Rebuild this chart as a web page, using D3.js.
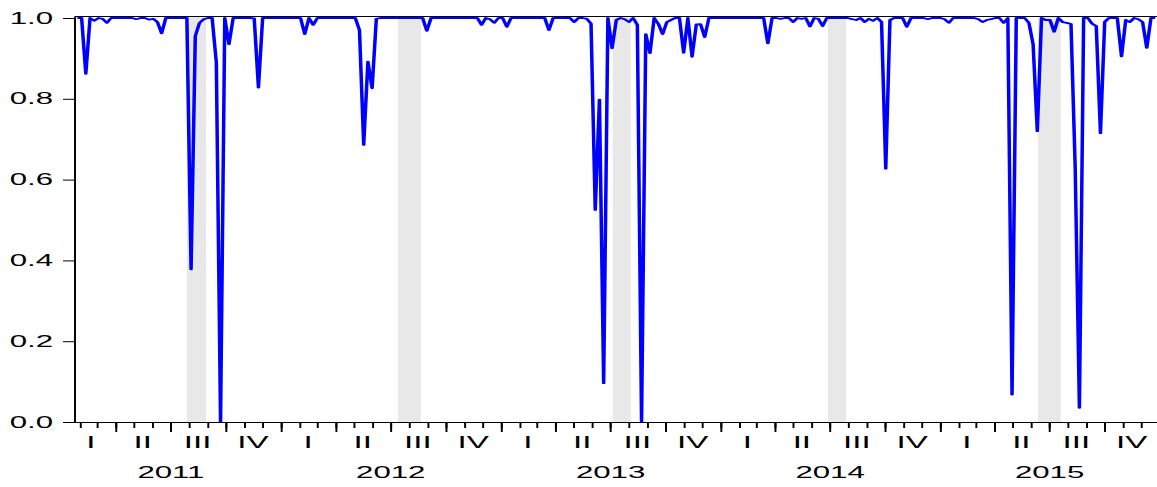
<!DOCTYPE html>
<html>
<head>
<meta charset="utf-8">
<script src="https://cdn.jsdelivr.net/npm/d3@7"></script>
<style>
  html, body { margin: 0; padding: 0; background: #ffffff; }
  svg { display: block; }
</style>
</head>
<body>
<script>
// Weekly observations, first week ending on this date
const firstWeek = "2011-01-28";

// Weekly series (one value per week)
const values = [
  1, 1, 0.862, 1, 0.993, 1, 0.998, 0.988, 1, 1,
  1, 1, 1, 1, 0.997, 1, 1, 0.996, 0.998, 0.99,
  0.962, 1, 1, 1, 1, 1, 1, 0.378, 0.955, 0.988,
  0.997, 1, 1, 0.89, 0.0, 1, 0.935, 1, 1, 1,
  1, 1, 0.999, 0.828, 1, 1, 1, 1, 1, 1,
  1, 1, 1, 1, 0.96, 1, 0.983, 1, 1, 1,
  1, 1, 1, 1, 1, 1, 1, 0.97, 0.686, 0.892,
  0.826, 0.998, 1, 1, 1, 1, 1, 1, 1, 1,
  1, 1, 1, 0.968, 1, 1, 1, 1, 1, 1,
  1, 1, 1, 1, 1, 1, 0.983, 1, 0.997, 0.988,
  1, 1, 0.978, 1, 1, 1, 1, 1, 1, 1,
  1, 1, 0.97, 1, 1, 1, 1, 1, 0.99, 1,
  1, 0.998, 0.986, 0.525, 0.798, 0.096, 1, 0.925, 0.995, 1,
  0.997, 0.99, 1, 0.983, 0.0, 0.96, 0.913, 1, 0.985, 0.96,
  0.99, 0.995, 1, 1, 0.914, 1, 0.904, 0.984, 0.985, 0.953,
  1, 1, 1, 1, 1, 1, 1, 1, 1, 1,
  1, 1, 1, 1, 0.937, 1, 1, 0.998, 1, 1,
  0.99, 1, 0.998, 1, 0.979, 1, 0.998, 0.98, 1, 1,
  1, 1, 1, 1, 0.997, 0.995, 1, 0.99, 0.998, 0.993,
  1, 0.99, 0.627, 0.995, 1, 1, 1, 0.978, 1, 1,
  1, 1, 0.997, 1, 1, 1, 0.997, 0.988, 1, 1,
  1, 1, 1, 1, 0.997, 0.99, 0.995, 0.997, 1, 1,
  0.988, 1, 0.068, 1, 1, 1, 0.988, 0.935, 0.72, 1,
  0.995, 0.995, 0.966, 1, 0.99, 0.988, 0.985, 0.63, 0.035, 1,
  1, 0.986, 0.98, 0.715, 0.99, 1, 1, 1, 0.905, 0.995,
  0.99, 1, 0.997, 0.99, 0.926, 1, 1
];

// Shaded periods (start, end)
const shadeStarts = ["2011-07-29", "2012-07-14", "2013-07-06", "2014-06-29", "2015-06-13"];
const shadeEnds   = ["2011-08-30", "2012-08-21", "2013-08-05", "2014-07-29", "2015-07-21"];

// Axis labels
const yTicks = [0.0, 0.2, 0.4, 0.6, 0.8, 1.0];
const quarterNames = ["I", "II", "III", "IV"];
const years = [2011, 2012, 2013, 2014, 2015];

const W = 1157, H = 487;
const K = 1.95;                     // horizontal stretch of the whole drawing
const FONT = "'Liberation Sans', Arial, Helvetica, sans-serif";

const parse = d3.timeParse("%Y-%m-%d");
const start = parse(firstWeek);
const dates = values.map((_, i) => d3.timeDay.offset(start, 7 * i));

const plotLeft = 75, plotRight = 1157, plotTop = 16.5, plotBottom = 422;

const svg = d3.select("body").append("svg")
  .attr("width", W).attr("height", H);

const g = svg.append("g").attr("transform", `scale(${K},1)`);

const x = d3.scaleTime()
  .domain([parse("2011-01-24"), parse("2015-12-28")])
  .range([plotLeft / K, plotRight / K]);

const y = d3.scaleLinear().domain([0, 1]).range([plotBottom, 18]);

// shaded periods
g.append("g").selectAll("rect")
  .data(shadeStarts.map((s, i) => [parse(s), parse(shadeEnds[i])]))
  .join("rect")
  .attr("x", d => x(d[0]))
  .attr("width", d => x(d[1]) - x(d[0]))
  .attr("y", plotTop)
  .attr("height", plotBottom - plotTop)
  .attr("fill", "#e8e8e8");

// series line
const line = d3.line()
  .x((d, i) => x(dates[i]))
  .y(d => y(d));

g.append("path")
  .datum(values)
  .attr("d", line)
  .attr("fill", "none")
  .attr("stroke", "#0000ff")
  .attr("stroke-width", 1.8)
  .attr("stroke-linejoin", "round");

// frame top edge
g.append("line")
  .attr("x1", plotLeft / K).attr("x2", W / K)
  .attr("y1", plotTop).attr("y2", plotTop)
  .attr("stroke", "#000").attr("stroke-width", 1);

// y axis
const yAxis = d3.axisLeft(y)
  .tickValues(yTicks)
  .tickFormat(d3.format(".1f"))
  .tickSizeInner(12 / K)
  .tickSizeOuter(0)
  .tickPadding(10 / K);

const yg = g.append("g")
  .attr("transform", `translate(${plotLeft / K},0)`)
  .call(yAxis);
yg.select(".domain").remove();
yg.selectAll("text")
  .attr("font-family", FONT)
  .attr("font-size", 16)
  .attr("fill", "#000");

g.append("line")
  .attr("x1", plotLeft / K).attr("x2", plotLeft / K)
  .attr("y1", plotTop).attr("y2", plotBottom + 0.5)
  .attr("stroke", "#000").attr("stroke-width", 1);

// x axis: monthly ticks, longer at quarters
const xMonth = d3.axisBottom(x)
  .ticks(d3.timeMonth.every(1))
  .tickFormat("")
  .tickSizeInner(6)
  .tickSizeOuter(0);
const xQuarter = d3.axisBottom(x)
  .ticks(d3.timeMonth.every(3))
  .tickFormat("")
  .tickSizeInner(10)
  .tickSizeOuter(0);

const xg1 = g.append("g").attr("transform", `translate(0,${plotBottom})`).call(xMonth);
const xg2 = g.append("g").attr("transform", `translate(0,${plotBottom})`).call(xQuarter);
xg1.select(".domain").remove();
xg2.select(".domain").remove();

g.append("line")
  .attr("x1", plotLeft / K).attr("x2", W / K)
  .attr("y1", plotBottom + 0.5).attr("y2", plotBottom + 0.5)
  .attr("stroke", "#000").attr("stroke-width", 1);

// quarter labels, centred on the visible part of each quarter
const [d0] = x.domain();
const quarters = [];
years.forEach(yr => {
  quarterNames.forEach((q, qi) => {
    const a = new Date(Math.max(+new Date(yr, qi * 3, 1), +d3.timeDay.offset(d0, -14)));
    const b = new Date(yr, qi * 3 + 3, 1);
    quarters.push({ name: q, mid: new Date((+a + +b) / 2) });
  });
});

g.append("g").selectAll("text")
  .data(quarters)
  .join("text")
  .attr("x", d => x(d.mid))
  .attr("y", 448)
  .attr("text-anchor", "middle")
  .attr("font-family", FONT)
  .attr("font-size", 17)
  .attr("fill", "#000")
  .text(d => d.name);

// year labels
g.append("g").selectAll("text")
  .data(years)
  .join("text")
  .attr("x", yr => x(new Date((+new Date(yr, 0, 1) + +new Date(yr + 1, 0, 1)) / 2)))
  .attr("y", 478)
  .attr("text-anchor", "middle")
  .attr("font-family", FONT)
  .attr("font-size", 16)
  .attr("fill", "#000")
  .text(yr => yr);
</script>
</body>
</html>
